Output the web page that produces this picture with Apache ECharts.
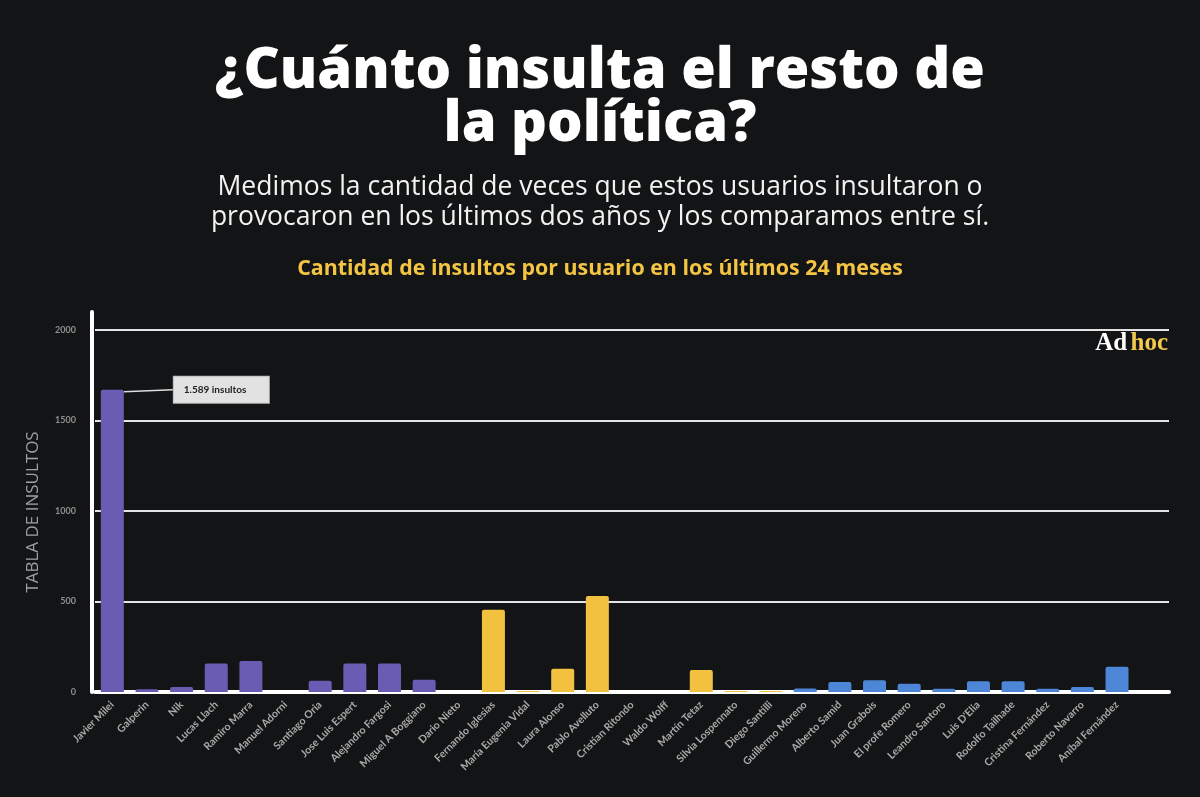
<!DOCTYPE html>
<html>
<head>
<meta charset="utf-8">
<script src="https://cdn.jsdelivr.net/npm/echarts@6/dist/echarts.min.js"></script>
<style>
html,body{margin:0;padding:0;background:#131415;}
#chart{width:1200px;height:797px;}
</style>
</head>
<body>
<div id="chart"></div>
<script>
const categories = ['Javier Milei','Galperin','Nik','Lucas Llach','Ramiro Marra','Manuel Adorni','Santiago Oria','Jose Luis Espert','Alejandro Fargosi','Miguel A Boggiano','Dario Nieto','Fernando Iglesias','María Eugenia Vidal','Laura Alonso','Pablo Avelluto','Cristian Ritondo','Waldo Wolff','Martín Tetaz','Silvia Lospennato','Diego Santilli','Guillermo Moreno','Alberto Samid','Juan Grabois','El profe Romero','Leandro Santoro','Luis D\'Elia','Rodolfo Tailhade','Cristina Fernández','Roberto Navarro','Aníbal Fernández'];
const values = [1670,15,28,158,172,0,62,158,158,68,0,455,6,128,530,0,0,122,5,5,20,55,65,45,18,60,60,18,28,140];
const groups = ['p','p','p','p','p','p','p','p','p','p','p','y','y','y','y','y','y','y','y','y','b','b','b','b','b','b','b','b','b','b'];
const groupColors = {p:'#6a5cb3', y:'#f2c13f', b:'#4d86d6'};
const yTicks = [0,500,1000,1500,2000];
const annotationText = '1.589 insultos';

const chart = echarts.init(document.getElementById('chart'));
const axisCats = categories.concat(['']);
const barData = values.map((v,i)=>{
  const item = {value:v, itemStyle:{color:groupColors[groups[i]]}};
  if(i===0){
    item.label = {
      show:true, position:['100%','0%'], formatter: annotationText,
      backgroundColor:'#e2e2e2', borderColor:'#bbbbbb', borderWidth:1,
      padding:[8,10,8,10], color:'#222', fontSize:10, fontWeight:'bold', fontFamily:'Lato',
      width:75
    };
    item.labelLine = {show:true, lineStyle:{color:'#dddddd', width:1.5}};
  }
  return item;
});

chart.setOption({
  backgroundColor:'#131415',
  animation:false,
  title:[
    {text:'¿Cuánto insulta el resto de\nla política?', left:'center', top:41,
     textStyle:{color:'#ffffff', fontSize:56, fontWeight:800, fontFamily:'Open Sans', lineHeight:53}},
    {text:'Medimos la cantidad de veces que estos usuarios insultaron o\nprovocaron en los últimos dos años y los comparamos entre sí.', left:'center', top:167,
     textStyle:{color:'#f2f2f2', fontSize:26.5, fontWeight:'normal', fontFamily:'Open Sans', lineHeight:30}},
    {text:'Cantidad de insultos por usuario en los últimos 24 meses', left:'center', top:253,
     textStyle:{color:'#f4c443', fontSize:21.4, fontWeight:'bold', fontFamily:'Open Sans'}}
  ],
  graphic:[
    {type:'text', right:32, top:331, style:{
      text:'{a|Ad} {b|hoc}',
      rich:{a:{fill:'#ffffff', fontSize:25, fontWeight:'bold', fontFamily:'Liberation Serif'},
            b:{fill:'#f2c94c', fontSize:25, fontWeight:'bold', fontFamily:'Liberation Serif'}}
    }}
  ],
  grid:{left:95, right:31, top:312, bottom:105, containLabel:false},
  xAxis:{
    type:'category', data:axisCats,
    axisLine:{show:true, lineStyle:{color:'#ffffff', width:4}},
    axisTick:{show:false},
    axisLabel:{interval:0, rotate:45, margin:11, color:'#a9a9a9', fontSize:10.5, fontWeight:'bold', fontFamily:'Lato'}
  },
  yAxis:{
    type:'value', min:0, max:2100, interval:500, offset:3,
    name:'TABLA DE INSULTOS', nameLocation:'middle', nameGap:50, nameRotate:90,
    nameTextStyle:{color:'#a0a0a0', fontSize:17, fontFamily:'Open Sans', padding:[0,20,0,0]},
    axisLine:{show:true, lineStyle:{color:'#ffffff', width:4}},
    axisTick:{show:false},
    axisLabel:{showMaxLabel:false, color:'#8f8f8f', fontSize:9, fontWeight:'bold', fontFamily:'Lato', margin:16,
      formatter:(v)=> yTicks.indexOf(v)>=0 ? String(v) : ''},
    splitLine:{show:true, showMaxLine:false, lineStyle:{color:'#e4e4e4', width:2}}
  },
  series:[{
    type:'bar', data:barData, barWidth:23,
    itemStyle:{borderRadius:[2,2,0,0]},
    labelLayout:(p)=> p.dataIndex===0 ? {dx:50, dy:-13} : {},
    z:3
  }]
});
</script>
</body>
</html>
